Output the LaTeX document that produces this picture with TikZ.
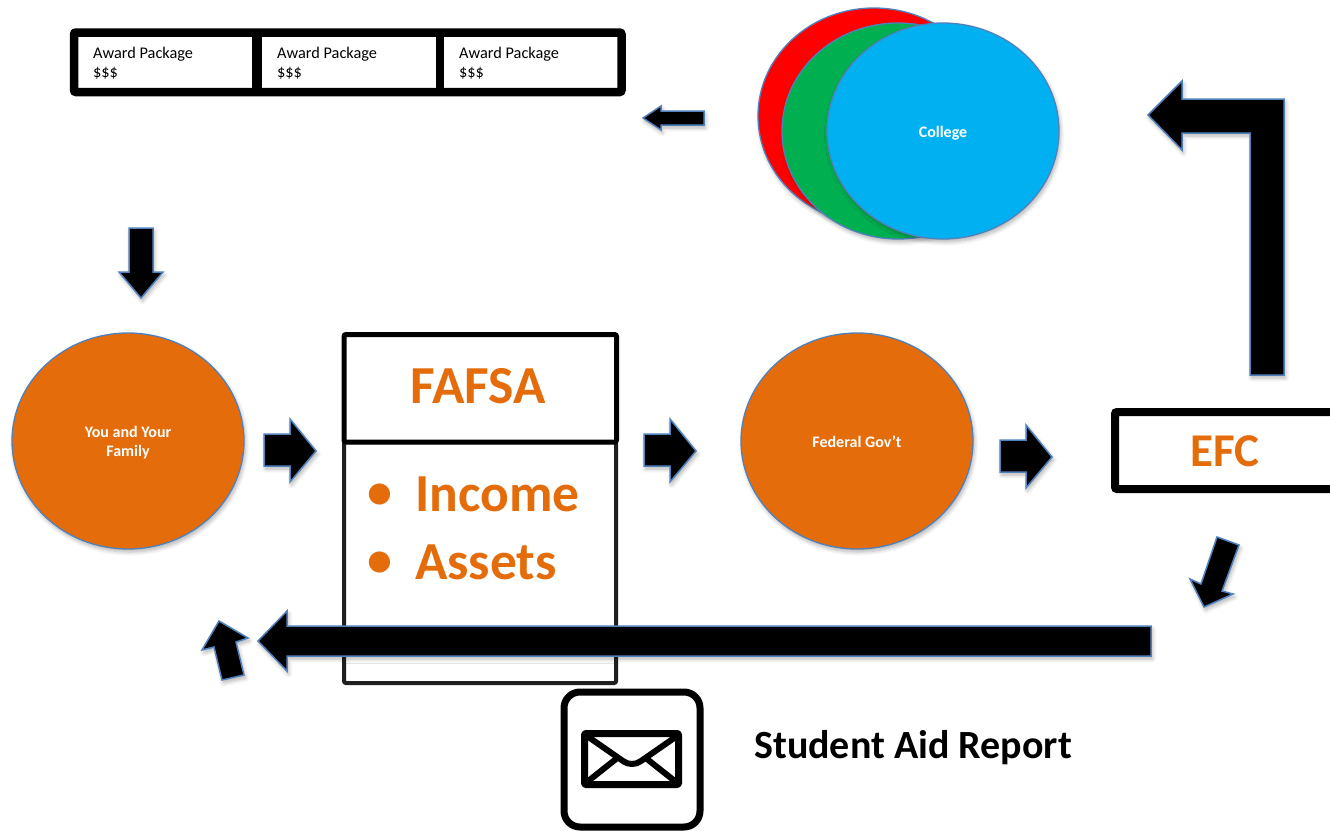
\documentclass[tikz,border=0pt]{standalone}
\usepackage{fontspec}
\setmainfont{Carlito}
\usetikzlibrary{shadows.blur,shapes.geometric}
\definecolor{orangeF}{HTML}{E46C0A}
\definecolor{edgeblue}{HTML}{4F81BD}
\definecolor{redF}{HTML}{FF0000}
\definecolor{greenF}{HTML}{00B050}
\definecolor{blueF}{HTML}{00B0F0}
\tikzset{
  x=1pt,y=-1pt,
  softshadow/.style={blur shadow={shadow xshift=1.5pt,shadow yshift=-3pt,shadow blur steps=6,shadow blur radius=4pt,shadow opacity=30}},
  blockarrow/.style={fill=black,draw=edgeblue,line width=1.5pt,line join=miter,softshadow},
  bubble/.style={ellipse,draw=edgeblue,line width=1.3pt,inner sep=0pt,softshadow},
  bubbletext/.style={inner sep=0pt,text=white,font=\bfseries\fontsize{16}{19}\selectfont,align=center},
  frame/.style={draw=black,fill=white,rounded corners=2pt},
  award/.style={anchor=north west,align=left,inner sep=0pt,font=\fontsize{16.3}{19}\selectfont},
  bigtext/.style={text=orangeF,font=\bfseries\fontsize{53.5}{60}\selectfont,inner sep=0pt},
  bullettext/.style={text=orangeF,font=\bfseries\fontsize{50}{60}\selectfont,inner sep=0pt},
}
\begin{document}
\begin{tikzpicture}
\useasboundingbox (0,0) rectangle (1330,830);
% award boxes
\draw[frame,line width=8.5pt] (74,32.5) rectangle (621.5,92);
\draw[line width=10pt] (257,32) -- (257,92);
\draw[line width=8pt] (440,32) -- (440,92);
\node[award] (a1) at (93,47) {Award Package\\\$\$\$};
\node[award] (a2) at (277,47) {Award Package\\\$\$\$};
\node[award] (a3) at (459,47) {Award Package\\\$\$\$};
% college
\node[bubble,fill=redF,minimum width=232pt,minimum height=216pt] (red) at (874,116) {};
\node[bubble,fill=greenF,minimum width=232pt,minimum height=216pt] (green) at (898,131) {};
\node[bubble,fill=blueF,minimum width=232pt,minimum height=216pt] (college) at (943,131) {};
\node[bubbletext] (collegetext) at (943,133) {College};
% people
\node[bubble,fill=orangeF,minimum width=232pt,minimum height=216pt] (family) at (128,441) {};
\node[bubbletext] (familytext) at (128,443) {You and Your\\Family};
\node[bubble,fill=orangeF,minimum width=232pt,minimum height=216pt] (gov) at (857,441) {};
\node[bubbletext] (govtext) at (857,441.5) {Federal Gov’t};
% FAFSA
\draw[frame,draw=black!88,line width=4pt] (344,442) rectangle (616,683);
\draw[frame,line width=5pt] (344,334.5) rectangle (616.5,442);
\node[bigtext] (fafsa) at (478,386) {FAFSA};
\node[bullettext,anchor=base west] (b1) at (367,508) {•};
\node[bigtext,anchor=base west] (income) at (415,511) {Income};
\node[bullettext,anchor=base west] (b2) at (367,576) {•};
\node[bigtext,anchor=base west] (assets) at (415,579) {Assets};
% EFC
\draw[frame,line width=8pt] (1115,412) rectangle (1345,489);
\node[text=orangeF,font=\bfseries\fontsize{47}{50}\selectfont,inner sep=0pt] (efc) at (1225,451) {EFC};
% arrows
\draw[blockarrow] (704,111) -- (661,111) -- (661,106) -- (643,118) -- (661,130) -- (661,125) -- (704,125) -- cycle;
\draw[blockarrow] (129,228) -- (153,228) -- (153,272) -- (163,272) -- (141,298) -- (119,272) -- (129,272) -- cycle;
\draw[blockarrow] (264,434) -- (290,434) -- (290,419) -- (316,451) -- (290,482) -- (290,466) -- (264,466) -- cycle;
\draw[blockarrow] (644,434) -- (670,434) -- (670,419) -- (696,451) -- (670,482) -- (670,466) -- (644,466) -- cycle;
\draw[blockarrow] (1000,440) -- (1026,440) -- (1026,425) -- (1052,457) -- (1026,488) -- (1026,472) -- (1000,472) -- cycle;
\draw[blockarrow] (1250,375) -- (1250,133) -- (1182,133) -- (1182,150) -- (1148,115) -- (1182,81) -- (1182,99) -- (1284,99) -- (1284,375) -- cycle;
\draw[blockarrow] (1217,537) -- (1239,545) -- (1222,591) -- (1233,594) -- (1204,607) -- (1190,579) -- (1201,584) -- cycle;
\draw[blockarrow] (1151,626) -- (287,626) -- (287,611) -- (258,641) -- (287,671) -- (287,656) -- (1151,656) -- cycle;
\draw[blockarrow] (219,621) -- (248,638) -- (236,642) -- (244,675) -- (222,680) -- (214,647) -- (202,650) -- cycle;
% mail icon
\draw[draw=black,fill=white,line width=7pt,rounded corners=16pt] (564,692) rectangle (700,827);
\draw[line width=7pt,line join=round,rounded corners=1pt] (584.5,733.5) rectangle (678.5,784.5);
\draw[line width=6pt,line join=round,line cap=butt] (587,736) -- (623,761) .. controls (628,765) and (636,765) .. (641,761) -- (677,736);
\draw[line width=6pt] (587,782) -- (616,759);
\draw[line width=6pt] (676,782) -- (647,759);
\node[anchor=base west,inner sep=0pt,font=\bfseries\fontsize{40}{44}\selectfont] (sar) at (754,758) {Student Aid Report};
\end{tikzpicture}
\end{document}
